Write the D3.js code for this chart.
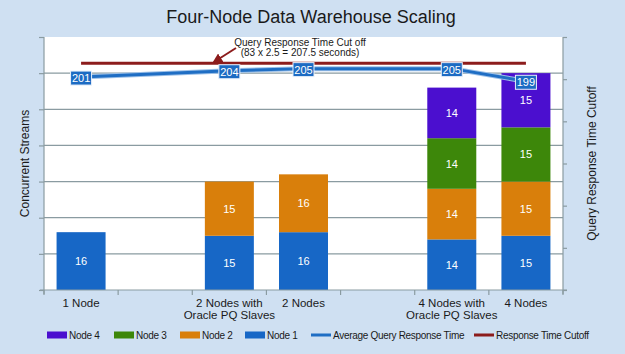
<!DOCTYPE html>
<html>
<head>
<meta charset="utf-8">
<script src="https://cdn.jsdelivr.net/npm/d3@7"></script>
<style>
  body { margin: 0; background: #cfe0f2; }
  text { font-family: "Liberation Sans", Arial, sans-serif; }
</style>
</head>
<body>
<div id="chart"></div>
<script>
// categories (blank slots are spacer bands in the original)
const categories = ['1 Node', 'gap1', '2 Nodes with|Oracle PQ Slaves', '2 Nodes', 'gap2', '4 Nodes with|Oracle PQ Slaves', '4 Nodes']
const seriesNames = ['Node 1', 'Node 2', 'Node 3', 'Node 4']
const node1 = [16, 0, 15, 16, 0, 14, 15]
const node2 = [0, 0, 15, 16, 0, 14, 15]
const node3 = [0, 0, 0, 0, 0, 14, 15]
const node4 = [0, 0, 0, 0, 0, 14, 15]
const avgCats = ['1 Node', '2 Nodes with|Oracle PQ Slaves', '2 Nodes', '4 Nodes with|Oracle PQ Slaves', '4 Nodes']
const avgResponse = [201, 204, 205, 205, 199]
const cutoffValue = 207.5
const leftTicks = [0, 10, 20, 30, 40, 50, 60, 70]
const rightTicks = [100, 120, 140, 160, 180, 200, 220]

const W = 625, H = 354
const margin = { left: 44, right: 62, top: 37, bottom: 64 }
const x0 = margin.left, x1 = W - margin.right
const y0 = H - margin.bottom, y1 = margin.top

const colors = { 'Node 1': '#1767c6', 'Node 2': '#d97f0b', 'Node 3': '#3d870a', 'Node 4': '#4b0fcf' }
const lineBlue = '#1f6ec4'
const cutRed = '#8c1c1c'
const axisGrey = '#8a9ba1'

const svg = d3.select('#chart').append('svg')
  .attr('width', W).attr('height', H)

svg.append('rect').attr('width', W).attr('height', H).style('fill', '#cfe0f2')

// title
svg.append('text')
  .attr('x', 311).attr('y', 23)
  .attr('text-anchor', 'middle')
  .attr('font-size', 18)
  .style('fill', '#1a1a1a')
  .text('Four-Node Data Warehouse Scaling')

// plot area
svg.append('rect')
  .attr('x', x0).attr('y', y1)
  .attr('width', x1 - x0).attr('height', y0 - y1)
  .style('fill', '#fff')

const x = d3.scaleBand().domain(categories).range([x0, x1]).paddingInner(0).paddingOuter(0)
const y = d3.scaleLinear().domain([0, 70]).range([y0, y1])
const yR = d3.scaleLinear().domain([100, 220]).range([y0, y1])

// gridlines
svg.append('g')
  .selectAll('line')
  .data(leftTicks.slice(1, -1))
  .join('line')
  .attr('x1', x0).attr('x2', x1)
  .attr('y1', d => y(d)).attr('y2', d => y(d))
  .style('stroke', axisGrey).style('stroke-width', 1.2)

// stacked bars
const rows = categories.map((c, i) => ({ cat: c, 'Node 1': node1[i], 'Node 2': node2[i], 'Node 3': node3[i], 'Node 4': node4[i] }))
const stack = d3.stack().keys(seriesNames)(rows)
const barW = 49

stack.forEach(layer => {
  const g = svg.append('g')
  layer.forEach(seg => {
    const v = seg[1] - seg[0]
    if (v <= 0) return
    const cx = x(seg.data.cat) + x.bandwidth() / 2
    g.append('rect')
      .attr('x', cx - barW / 2)
      .attr('y', y(seg[1]))
      .attr('width', barW)
      .attr('height', y(seg[0]) - y(seg[1]))
      .style('fill', colors[layer.key])
    g.append('text')
      .attr('x', cx)
      .attr('y', (y(seg[0]) + y(seg[1])) / 2 + 4)
      .attr('text-anchor', 'middle')
      .attr('font-size', 11)
      .style('fill', '#fff')
      .text(v)
  })
})

// left axis
const leftAxis = svg.append('g')
  .attr('transform', `translate(${x0},0)`)
  .call(d3.axisLeft(y).tickValues(leftTicks).tickSize(5).tickFormat(''))
leftAxis.select('.domain').remove()
leftAxis.append('line').attr('x1', 0).attr('x2', 0).attr('y1', y0 + 4).attr('y2', y1)

// right axis
const rightAxis = svg.append('g')
  .attr('transform', `translate(${x1},0)`)
  .call(d3.axisRight(yR).tickValues(rightTicks).tickSize(4).tickFormat(''))
rightAxis.select('.domain').remove()
rightAxis.append('line').attr('x1', 0).attr('x2', 0).attr('y1', y0 + 4).attr('y2', y1)

// bottom axis
const bottomAxis = svg.append('g')
  .attr('transform', `translate(0,${y0})`)
bottomAxis.append('line').attr('x1', x0 - 4).attr('x2', x1 + 4).attr('y1', 0).attr('y2', 0)
bottomAxis.selectAll('line.tick')
  .data(d3.range(0, categories.length + 1))
  .join('line')
  .attr('class', 'tick')
  .attr('x1', d => x0 + d * x.step()).attr('x2', d => x0 + d * x.step())
  .attr('y1', 0).attr('y2', 5)
svg.selectAll('g line').style('stroke', axisGrey).style('stroke-width', 1.2)

// category labels
categories.forEach(c => {
  if (c.startsWith('gap')) return
  const parts = c.split('|')
  const cx = x(c) + x.bandwidth() / 2
  const t = svg.append('text')
    .attr('x', cx)
    .attr('y', y0 + 17)
    .attr('text-anchor', 'middle')
    .attr('font-size', 11.5)
    .style('fill', '#1a1a1a')
  parts.forEach((p, i) => {
    t.append('tspan').attr('x', cx).attr('dy', i === 0 ? 0 : 11.5).text(p)
  })
})

// axis titles
svg.append('text')
  .attr('transform', `translate(29,${(y0 + y1) / 2}) rotate(-90)`)
  .attr('text-anchor', 'middle')
  .attr('font-size', 12)
  .style('fill', '#1a1a1a')
  .text('Concurrent Streams')
svg.append('text')
  .attr('transform', `translate(596,${(y0 + y1) / 2}) rotate(-90)`)
  .attr('text-anchor', 'middle')
  .attr('font-size', 12)
  .style('fill', '#1a1a1a')
  .text('Query Response Time Cutoff')

// cutoff line
const firstX = x(avgCats[0]) + x.bandwidth() / 2
const lastX = x(avgCats[avgCats.length - 1]) + x.bandwidth() / 2
svg.append('line')
  .attr('x1', firstX).attr('x2', lastX)
  .attr('y1', yR(cutoffValue)).attr('y2', yR(cutoffValue))
  .style('stroke', cutRed).style('stroke-width', 3)

// average response line
const pts = avgCats.map((c, i) => [x(c) + x.bandwidth() / 2, yR(avgResponse[i])])
const line = d3.line()
svg.append('path').attr('d', line(pts))
  .style('fill', 'none').style('stroke', '#9cc0e8').style('stroke-width', 5)
svg.append('path').attr('d', line(pts))
  .style('fill', 'none').style('stroke', lineBlue).style('stroke-width', 3)

// value boxes
pts.forEach((p, i) => {
  const g = svg.append('g').attr('transform', `translate(${p[0]},${p[1] + 1})`)
  g.append('rect')
    .attr('x', -10.5).attr('y', -7).attr('width', 21).attr('height', 14)
    .style('fill', '#1c6bc3').style('stroke', '#e8f0fa').style('stroke-width', 1)
  g.append('text')
    .attr('y', 4)
    .attr('text-anchor', 'middle')
    .attr('font-size', 11)
    .style('fill', '#fff')
    .text(avgResponse[i])
})

// annotation
svg.append('defs').append('marker')
  .attr('id', 'arrow').attr('viewBox', '0 0 10 10')
  .attr('refX', 8).attr('refY', 5)
  .attr('markerWidth', 5).attr('markerHeight', 5)
  .attr('orient', 'auto')
  .append('path').attr('d', 'M0,0L10,5L0,10z').style('fill', cutRed)
svg.append('line')
  .attr('x1', 236).attr('y1', 48).attr('x2', 214).attr('y2', 62)
  .style('stroke', cutRed).style('stroke-width', 2)
  .attr('marker-end', 'url(#arrow)')
const ann = svg.append('text')
  .attr('text-anchor', 'middle')
  .attr('font-size', 10)
  .style('fill', '#1a1a1a')
ann.append('tspan').attr('x', 300).attr('y', 46).text('Query Response Time Cut off')
ann.append('tspan').attr('x', 300).attr('y', 56).text('(83 x 2.5 = 207.5 seconds)')

// legend
const legendItems = [
  { name: 'Node 4', type: 'rect', color: colors['Node 4'], x: 47 },
  { name: 'Node 3', type: 'rect', color: colors['Node 3'], x: 114 },
  { name: 'Node 2', type: 'rect', color: colors['Node 2'], x: 180 },
  { name: 'Node 1', type: 'rect', color: colors['Node 1'], x: 245 },
  { name: 'Average Query Response Time', type: 'line', color: lineBlue, x: 311 },
  { name: 'Response Time Cutoff', type: 'line', color: cutRed, x: 474 }
]
const legY = 335
legendItems.forEach(it => {
  if (it.type === 'rect') {
    svg.append('rect').attr('x', it.x).attr('y', legY - 3.5).attr('width', 20).attr('height', 7)
      .style('fill', it.color)
  } else {
    svg.append('line').attr('x1', it.x).attr('x2', it.x + 20).attr('y1', legY).attr('y2', legY)
      .style('stroke', it.color).style('stroke-width', 3)
  }
  svg.append('text')
    .attr('x', it.x + 22).attr('y', legY + 4)
    .attr('font-size', 10)
    .attr('letter-spacing', -0.3)
    .style('fill', '#1a1a1a')
    .text(it.name)
})
</script>
</body>
</html>
